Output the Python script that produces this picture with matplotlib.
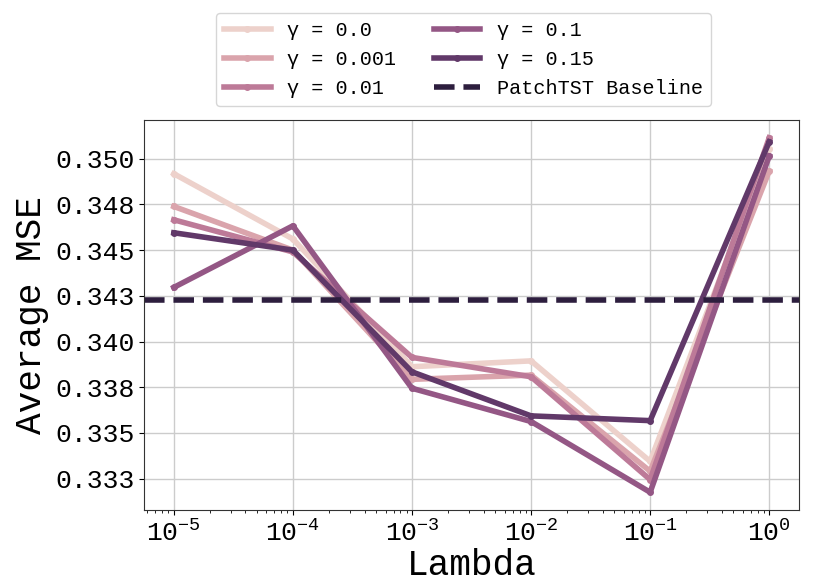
import matplotlib
matplotlib.use("Agg")
import matplotlib.pyplot as plt
import seaborn as sns

# --- Data ---
lambdas = [1e-5, 1e-4, 1e-3, 1e-2, 1e-1, 1e0]
gammas = ["0.0", "0.001", "0.01", "0.1", "0.15"]
mse_g0 = [0.34918, 0.34561, 0.33862, 0.33894, 0.33344, 0.35053]
mse_g0001 = [0.34739, 0.34500, 0.33793, 0.33816, 0.33290, 0.34933]
mse_g001 = [0.34666, 0.34490, 0.33913, 0.33807, 0.33244, 0.35115]
mse_g01 = [0.34296, 0.34633, 0.33744, 0.33562, 0.33175, 0.35015]
mse_g015 = [0.34595, 0.34500, 0.33834, 0.33593, 0.33567, 0.35093]
baseline_mse = 0.34229

ytick_vals = [0.3325, 0.335, 0.3375, 0.34, 0.3425, 0.345, 0.3475, 0.35]
ytick_labels = ["0.333", "0.335", "0.338", "0.340", "0.343", "0.345", "0.348", "0.350"]

series = [mse_g0, mse_g0001, mse_g001, mse_g01, mse_g015]

# --- Style ---
plt.rcParams['font.family'] = ['Liberation Mono', 'DejaVu Sans']
plt.rcParams['mathtext.fontset'] = 'custom'
plt.rcParams['mathtext.rm'] = 'Liberation Mono'
plt.rcParams['mathtext.it'] = 'Liberation Mono'
plt.rcParams['mathtext.bf'] = 'Liberation Mono'

colors = sns.cubehelix_palette(6)

fig = plt.figure(figsize=(8.33, 5.86), dpi=100)
ax = fig.add_axes([0.1729, 0.1297, 0.7863, 0.6655])

for g, vals, c in zip(gammas, series, colors[:5]):
    ax.plot(lambdas, vals, color=c, lw=4, marker='o', markersize=4,
            label=f"γ = {g}")
ax.axhline(baseline_mse, color=colors[5], lw=4, ls='--', label='PatchTST Baseline')

ax.set_xscale('log')
ax.set_yticks(ytick_vals)
ax.set_yticklabels(ytick_labels)
ax.tick_params(axis='both', labelsize=19)
ax.grid(True, which='major', color='#cccccc', lw=1)
for s in ax.spines.values():
    s.set_color('#333333')

ax.set_xlabel('Lambda', fontsize=26, labelpad=2)
ax.set_ylabel('Average MSE', fontsize=26)

ax.legend(loc='lower center', bbox_to_anchor=(0.5564, 0.819),
          bbox_transform=fig.transFigure, ncol=2, fontsize=14.5,
          handlelength=2.3, columnspacing=1.9, frameon=True,
          borderaxespad=0)

fig.savefig('out.png', dpi=100)
